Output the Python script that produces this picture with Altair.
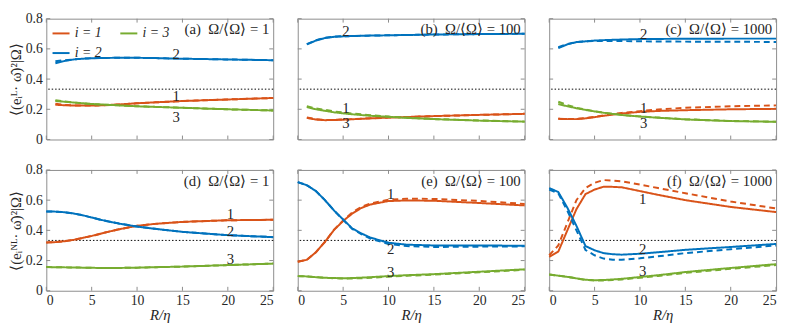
import altair as alt
import pandas as pd

FONT = "Liberation Serif"
W, H = 231, 123
ORANGE, BLUE, GREEN = "#D95319", "#0072BD", "#77AC30"
FRAME = "#8c8c8c"

SERIES_ORDER = ["i = 1", "i = 2", "i = 3"]
SERIES_COLORS = [ORANGE, BLUE, GREEN]

X_TICKS = [0, 5, 10, 15, 20, 25]
Y_TICKS = [0, 0.2, 0.4, 0.6, 0.8]

TOP_X = [1, 2, 3, 4, 5, 6, 8, 10, 12, 15, 20, 25]
BOT_X = [0, 1, 2, 3, 4, 5, 6, 7, 8, 10, 12, 15, 20, 25]

# (a) Omega/<Omega> = 1, strain eigenframe
A1_SOLID = [0.230, 0.227, 0.225, 0.225, 0.225, 0.226, 0.232, 0.240, 0.246, 0.255, 0.265, 0.275]
A1_DASH  = [0.237, 0.229, 0.225, 0.225, 0.225, 0.226, 0.232, 0.240, 0.246, 0.255, 0.265, 0.275]
A2_SOLID = [0.505, 0.520, 0.530, 0.535, 0.538, 0.540, 0.541, 0.541, 0.539, 0.535, 0.530, 0.525]
A2_DASH  = [0.518, 0.525, 0.530, 0.535, 0.538, 0.540, 0.541, 0.541, 0.539, 0.535, 0.530, 0.525]
A3_SOLID = [0.255, 0.250, 0.245, 0.240, 0.235, 0.232, 0.226, 0.220, 0.216, 0.210, 0.200, 0.192]
A3_DASH  = [0.260, 0.252, 0.245, 0.240, 0.235, 0.232, 0.226, 0.220, 0.216, 0.210, 0.200, 0.192]

# (b) Omega/<Omega> = 100
B1_SOLID = [0.143, 0.132, 0.128, 0.129, 0.131, 0.134, 0.140, 0.145, 0.149, 0.155, 0.163, 0.170]
B1_DASH  = [0.146, 0.135, 0.130, 0.130, 0.132, 0.135, 0.140, 0.145, 0.149, 0.155, 0.163, 0.170]
B2_SOLID = [0.630, 0.655, 0.672, 0.680, 0.683, 0.685, 0.688, 0.690, 0.692, 0.695, 0.698, 0.700]
B2_DASH  = [0.632, 0.657, 0.674, 0.681, 0.684, 0.686, 0.688, 0.690, 0.692, 0.695, 0.698, 0.700]
B3_SOLID = [0.215, 0.200, 0.190, 0.180, 0.173, 0.167, 0.157, 0.150, 0.143, 0.135, 0.125, 0.118]
B3_DASH  = [0.220, 0.206, 0.196, 0.186, 0.179, 0.172, 0.161, 0.152, 0.145, 0.136, 0.126, 0.119]

# (c) Omega/<Omega> = 1000
C1_SOLID = [0.137, 0.135, 0.135, 0.140, 0.148, 0.157, 0.172, 0.183, 0.189, 0.194, 0.200, 0.203]
C1_DASH  = [0.137, 0.135, 0.136, 0.142, 0.150, 0.160, 0.176, 0.188, 0.199, 0.210, 0.220, 0.226]
C2_SOLID = [0.605, 0.630, 0.645, 0.650, 0.655, 0.658, 0.662, 0.665, 0.666, 0.667, 0.668, 0.668]
C2_DASH  = [0.612, 0.632, 0.645, 0.650, 0.652, 0.653, 0.652, 0.650, 0.649, 0.648, 0.647, 0.646]
C3_SOLID = [0.235, 0.220, 0.207, 0.196, 0.186, 0.177, 0.162, 0.152, 0.144, 0.133, 0.122, 0.117]
C3_DASH  = [0.250, 0.228, 0.210, 0.198, 0.187, 0.178, 0.163, 0.153, 0.145, 0.134, 0.123, 0.118]

# (d) Omega/<Omega> = 1, non-local strain eigenframe
D1_SOLID = [0.320, 0.322, 0.328, 0.337, 0.350, 0.363, 0.378, 0.393, 0.407, 0.430, 0.443, 0.456, 0.467, 0.470]
D1_DASH  = [0.320, 0.322, 0.328, 0.337, 0.350, 0.363, 0.378, 0.393, 0.407, 0.430, 0.443, 0.456, 0.467, 0.470]
D2_SOLID = [0.525, 0.524, 0.520, 0.512, 0.500, 0.485, 0.470, 0.457, 0.445, 0.425, 0.410, 0.390, 0.368, 0.355]
D2_DASH  = [0.525, 0.524, 0.520, 0.512, 0.500, 0.485, 0.470, 0.457, 0.445, 0.425, 0.410, 0.390, 0.368, 0.355]
D3_SOLID = [0.157, 0.156, 0.155, 0.154, 0.153, 0.152, 0.151, 0.151, 0.151, 0.153, 0.156, 0.160, 0.170, 0.180]
D3_DASH  = [0.157, 0.156, 0.155, 0.154, 0.153, 0.152, 0.151, 0.151, 0.151, 0.153, 0.156, 0.160, 0.170, 0.180]

# (e) Omega/<Omega> = 100
E1_SOLID = [0.192, 0.205, 0.255, 0.324, 0.403, 0.462, 0.511, 0.548, 0.571, 0.594, 0.598, 0.596, 0.581, 0.565]
E1_DASH  = [0.192, 0.205, 0.255, 0.324, 0.405, 0.465, 0.518, 0.555, 0.578, 0.603, 0.610, 0.608, 0.595, 0.575]
E2_SOLID = [0.719, 0.699, 0.660, 0.600, 0.531, 0.472, 0.413, 0.380, 0.352, 0.318, 0.305, 0.300, 0.300, 0.298]
E2_DASH  = [0.719, 0.699, 0.660, 0.600, 0.531, 0.470, 0.410, 0.375, 0.345, 0.310, 0.296, 0.290, 0.292, 0.294]
E3_SOLID = [0.097, 0.095, 0.090, 0.086, 0.084, 0.083, 0.084, 0.087, 0.090, 0.097, 0.103, 0.110, 0.126, 0.142]
E3_DASH  = [0.097, 0.095, 0.090, 0.086, 0.083, 0.081, 0.081, 0.083, 0.086, 0.093, 0.099, 0.107, 0.122, 0.139]

# (f) Omega/<Omega> = 1000
F1_SOLID = [0.225, 0.259, 0.400, 0.540, 0.640, 0.670, 0.689, 0.688, 0.685, 0.660, 0.635, 0.600, 0.555, 0.521]
F1_DASH  = [0.235, 0.300, 0.450, 0.600, 0.680, 0.715, 0.733, 0.730, 0.725, 0.703, 0.680, 0.646, 0.591, 0.545]
F2_SOLID = [0.680, 0.654, 0.550, 0.430, 0.296, 0.268, 0.249, 0.242, 0.239, 0.245, 0.255, 0.271, 0.290, 0.310]
F2_DASH  = [0.670, 0.645, 0.530, 0.400, 0.270, 0.235, 0.213, 0.206, 0.205, 0.215, 0.228, 0.249, 0.275, 0.300]
F3_SOLID = [0.107, 0.100, 0.092, 0.082, 0.073, 0.070, 0.071, 0.075, 0.079, 0.091, 0.103, 0.124, 0.151, 0.176]
F3_DASH  = [0.107, 0.100, 0.092, 0.082, 0.072, 0.068, 0.068, 0.071, 0.075, 0.086, 0.098, 0.118, 0.145, 0.170]

# curve-number annotations: x, y for labels "1", "2", "3"
CURVE_TEXT = ["1", "2", "3"]
A_LAB_X, A_LAB_Y = [14.3, 14.3, 14.3], [0.290, 0.566, 0.146]
B_LAB_X, B_LAB_Y = [5.3, 5.3, 5.3], [0.210, 0.715, 0.108]
C_LAB_X, C_LAB_Y = [10.4, 10.4, 10.4], [0.210, 0.695, 0.110]
D_LAB_X, D_LAB_Y = [20.3, 20.3, 20.3], [0.510, 0.397, 0.209]
E_LAB_X, E_LAB_Y = [10.25, 10.25, 10.25], [0.640, 0.275, 0.122]
F_LAB_X, F_LAB_Y = [10.3, 10.3, 10.3], [0.604, 0.275, 0.132]

PANEL_TITLES = ["(a)\u2002\u03a9/\u27e8\u03a9\u27e9 = 1", "(b)\u2002\u03a9/\u27e8\u03a9\u27e9 = 100",
                "(c)\u2002\u03a9/\u27e8\u03a9\u27e9 = 1000", "(d)\u2002\u03a9/\u27e8\u03a9\u27e9 = 1",
                "(e)\u2002\u03a9/\u27e8\u03a9\u27e9 = 100", "(f)\u2002\u03a9/\u27e8\u03a9\u27e9 = 1000"]
Y_TITLE_TOP = "\u27e8(e\u1d62\u1d38\u00b7 \u03c9\u0302)\u00b2|\u03a9\u27e9"
Y_TITLE_BOT = "\u27e8(e\u1d62\u1d3a\u1d38\u00b7 \u03c9\u0302)\u00b2|\u03a9\u27e9"
X_TITLE = "R/\u03b7"


def make_df(xs, s1, d1, s2, d2, s3, d3):
    rows = []
    for name, sol, das in [("i = 1", s1, d1), ("i = 2", s2, d2), ("i = 3", s3, d3)]:
        for x, v in zip(xs, sol):
            rows.append({"x": x, "v": v, "series": name, "style": "solid"})
        for x, v in zip(xs, das):
            rows.append({"x": x, "v": v, "series": name, "style": "dashed"})
    return pd.DataFrame(rows)


def panel(df, lab_x, lab_y, title, bottom, left, legend):
    xscale = alt.Scale(domain=[0, 25], nice=False, zero=False)
    yscale = alt.Scale(domain=[0, 0.8], nice=False)
    if bottom:
        xaxis = alt.Axis(values=X_TICKS, ticks=False, domain=False, grid=False, labelFont=FONT,
                         labelFontSize=14, labelColor="#262626", labelPadding=3, title=X_TITLE,
                         titleFont=FONT, titleFontSize=15, titleFontStyle="italic",
                         titleFontWeight="normal", titleColor="#262626", titlePadding=0)
    else:
        xaxis = None
    if left:
        yaxis = alt.Axis(values=Y_TICKS, format=".1~f", ticks=False, domain=False, grid=False,
                         labelFont=FONT, labelFontSize=14, labelColor="#262626", labelPadding=4,
                         title=Y_TITLE_BOT if bottom else Y_TITLE_TOP, titleFont=FONT,
                         titleFontSize=15, titleFontWeight="normal", titleColor="#262626",
                         titlePadding=2)
    else:
        yaxis = None

    def X(field):
        return alt.X(field, type="quantitative", scale=xscale, axis=xaxis)

    def Y(field):
        return alt.Y(field, type="quantitative", scale=yscale, axis=yaxis)

    if legend:
        leg = alt.Legend(orient="top-left", offset=5, padding=0, columns=2, title=None,
                         values=SERIES_ORDER,
                         symbolType="stroke", symbolSize=300, symbolStrokeWidth=2,
                         labelFont=FONT, labelFontSize=14, labelFontStyle="italic",
                         labelColor="#262626", columnPadding=14, rowPadding=3, labelOffset=4)
    else:
        leg = None

    lines = alt.Chart(df).mark_line(strokeWidth=2).encode(
        x=X("x"), y=Y("v"),
        color=alt.Color("series:N", scale=alt.Scale(domain=SERIES_ORDER, range=SERIES_COLORS),
                        legend=leg),
        strokeDash=alt.StrokeDash("style:N", scale=alt.Scale(domain=["solid", "dashed"],
                                                             range=[[1, 0], [6, 4]]), legend=None),
        detail="style:N",
        order="x:Q",
    )
    third = alt.Chart(pd.DataFrame({"t": [1 / 3]})).mark_rule(
        color="black", strokeDash=[1.5, 2], strokeWidth=1).encode(y=Y("t"))
    labs = alt.Chart(pd.DataFrame({"lx": lab_x, "ly": lab_y, "txt": CURVE_TEXT})).mark_text(
        font=FONT, fontSize=15, color="#262626").encode(x=X("lx"), y=Y("ly"), text="txt:N")
    ttl = alt.Chart(pd.DataFrame({"t": [0]})).mark_text(
        font=FONT, fontSize=15, color="#262626", align="right", baseline="middle").encode(
        x=alt.value(W - 4), y=alt.value(11), text=alt.value(title))
    xt = pd.DataFrame({"t": X_TICKS})
    yt = pd.DataFrame({"t": Y_TICKS})
    tb = alt.Chart(xt).mark_rule(color=FRAME).encode(x=X("t"), y=alt.value(H), y2=alt.value(H - 4))
    tt = alt.Chart(xt).mark_rule(color=FRAME).encode(x=X("t"), y=alt.value(0), y2=alt.value(4))
    tl = alt.Chart(yt).mark_rule(color=FRAME).encode(y=Y("t"), x=alt.value(0), x2=alt.value(4))
    tr = alt.Chart(yt).mark_rule(color=FRAME).encode(y=Y("t"), x=alt.value(W), x2=alt.value(W - 4))
    return alt.layer(tb, tt, tl, tr, third, lines, labs, ttl).properties(width=W, height=H)


pa = panel(make_df(TOP_X, A1_SOLID, A1_DASH, A2_SOLID, A2_DASH, A3_SOLID, A3_DASH),
           A_LAB_X, A_LAB_Y, PANEL_TITLES[0], False, True, True)
pb = panel(make_df(TOP_X, B1_SOLID, B1_DASH, B2_SOLID, B2_DASH, B3_SOLID, B3_DASH),
           B_LAB_X, B_LAB_Y, PANEL_TITLES[1], False, False, False)
pc = panel(make_df(TOP_X, C1_SOLID, C1_DASH, C2_SOLID, C2_DASH, C3_SOLID, C3_DASH),
           C_LAB_X, C_LAB_Y, PANEL_TITLES[2], False, False, False)
pd_ = panel(make_df(BOT_X, D1_SOLID, D1_DASH, D2_SOLID, D2_DASH, D3_SOLID, D3_DASH),
            D_LAB_X, D_LAB_Y, PANEL_TITLES[3], True, True, False)
pe = panel(make_df(BOT_X, E1_SOLID, E1_DASH, E2_SOLID, E2_DASH, E3_SOLID, E3_DASH),
           E_LAB_X, E_LAB_Y, PANEL_TITLES[4], True, False, False)
pf = panel(make_df(BOT_X, F1_SOLID, F1_DASH, F2_SOLID, F2_DASH, F3_SOLID, F3_DASH),
           F_LAB_X, F_LAB_Y, PANEL_TITLES[5], True, False, False)

chart = alt.concat(pa, pb, pc, pd_, pe, pf, columns=3, spacing=15).resolve_scale(
    color="independent", strokeDash="independent").properties(
    padding=0, background="white").configure_view(stroke=FRAME, strokeWidth=1)

chart.save("out.html", embed_options={"renderer": "svg", "actions": False})
